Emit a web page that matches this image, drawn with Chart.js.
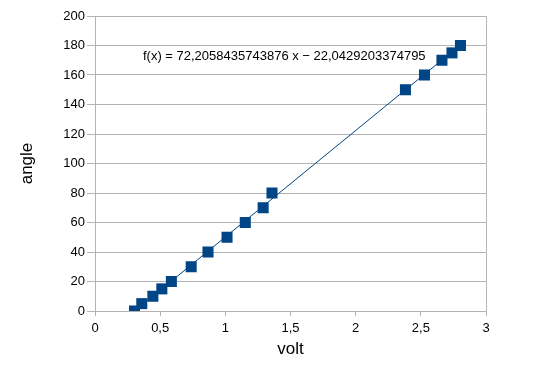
<!DOCTYPE html>
<html>
<head>
<meta charset="utf-8">
<script src="https://cdn.jsdelivr.net/npm/chart.js@4.4.1/dist/chart.umd.min.js"></script>
<style>
html,body{margin:0;padding:0;background:#fff;}
#wrap{width:557px;height:370px;position:relative;}
</style>
</head>
<body>
<div id="wrap"><canvas id="c" width="557" height="370"></canvas></div>
<script>
// Data
const volt  = [0.303, 0.359, 0.444, 0.513, 0.586, 0.738, 0.867, 1.013, 1.153, 1.290, 1.358, 2.382, 2.528, 2.662, 2.739, 2.804];
const angle = [0, 5, 10, 15, 20, 30, 40, 50, 60, 70, 80, 150, 160, 170, 175, 180];
const trendSlope = 72.2058435743876;
const trendIntercept = -22.0429203374795;
const trendLabel = 'f(x) = 72,2058435743876 x \u2212 22,0429203374795';
const xAxisTitle = 'volt';
const yAxisTitle = 'angle';

const points = volt.map((v, i) => ({x: v, y: angle[i]}));
const xMin = Math.min(...volt), xMax = Math.max(...volt);
const trend = [xMin, xMax].map(v => ({x: v, y: trendSlope * v + trendIntercept}));

const GRID = '#b3b3b3';
const BLUE = '#004586';
const FONT = 'Liberation Sans, Arial, sans-serif';

const eqPlugin = {
  id: 'eq',
  afterDatasetsDraw(chart) {
    const ctx = chart.ctx;
    const xs = chart.scales.x, ys = chart.scales.y;
    ctx.save();
    ctx.font = '13px ' + FONT;
    ctx.fillStyle = '#000';
    ctx.textBaseline = 'middle';
    ctx.textAlign = 'left';
    ctx.fillText(trendLabel, xs.getPixelForValue(0.368), ys.getPixelForValue(172.3));
    ctx.restore();
  }
};

new Chart(document.getElementById('c'), {
  type: 'scatter',
  data: {
    datasets: [
      {
        data: points,
        backgroundColor: BLUE,
        borderColor: BLUE,
        borderWidth: 0,
        pointStyle: 'rect',
        pointRadius: 7.8,
        pointHoverRadius: 7.8,
        order: 0
      },
      {
        type: 'line',
        data: trend,
        borderColor: BLUE,
        borderWidth: 1,
        pointRadius: 0,
        fill: false,
        order: 1
      }
    ]
  },
  options: {
    responsive: false,
    animation: false,
    events: [],
    layout: {padding: {left: 0, right: 71, top: 16, bottom: 0}},
    plugins: {legend: {display: false}, tooltip: {enabled: false}},
    scales: {
      x: {
        type: 'linear',
        min: 0, max: 3,
        ticks: {
          stepSize: 0.5,
          color: '#000',
          padding: 5,
          font: {family: FONT, size: 13},
          callback: v => String(v).replace('.', ',')
        },
        grid: {
          color: c => (c.tick && c.tick.value === 3) ? GRID : 'rgba(0,0,0,0)',
          tickColor: GRID,
          tickLength: 5
        },
        border: {display: true, color: GRID},
        title: {
          display: true, text: xAxisTitle, color: '#000',
          font: {family: FONT, size: 17},
          padding: {top: 0, bottom: 10}
        },
        afterFit: s => { s.height = 59; }
      },
      y: {
        type: 'linear',
        min: 0, max: 200,
        ticks: {
          stepSize: 20,
          color: '#000',
          padding: 2,
          font: {family: FONT, size: 13}
        },
        grid: {color: GRID, tickColor: GRID, tickLength: 8},
        border: {display: true, color: GRID},
        title: {
          display: true, text: yAxisTitle, color: '#000',
          font: {family: FONT, size: 17},
          padding: {top: 17, bottom: 0}
        },
        afterFit: s => { s.width = 95; }
      }
    }
  },
  plugins: [eqPlugin]
});
</script>
</body>
</html>
